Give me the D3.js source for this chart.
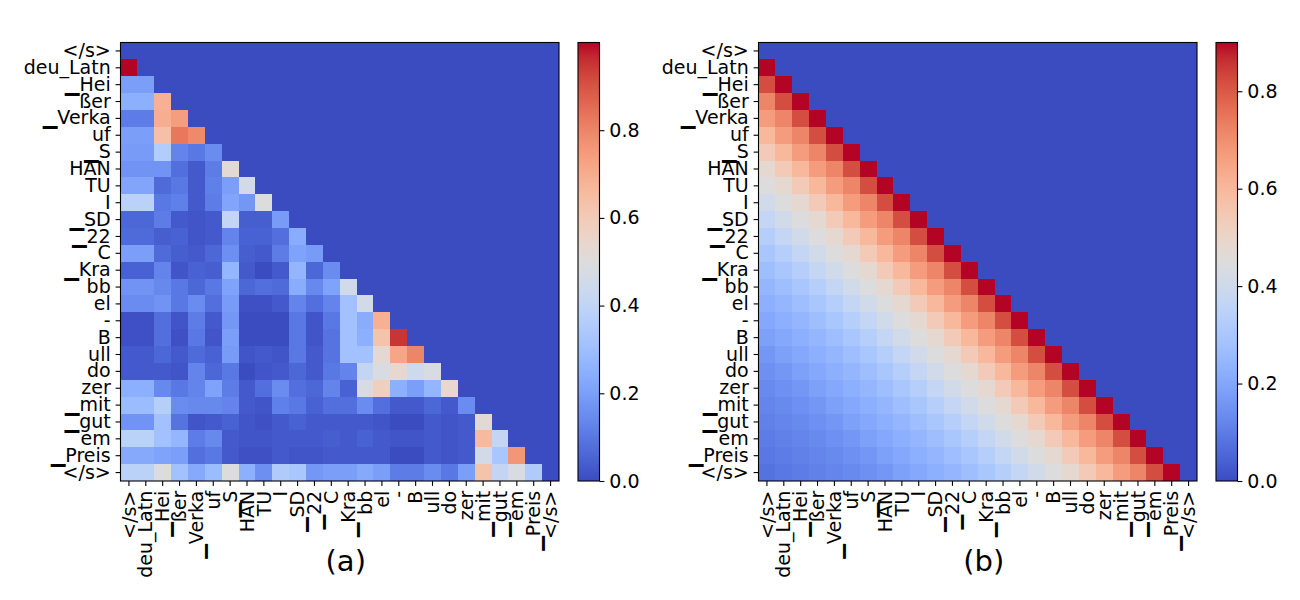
<!DOCTYPE html>
<html>
<head>
<meta charset="utf-8">
<script src="https://cdn.jsdelivr.net/npm/d3@7"></script>
<style>
    body { margin: 0; background: #ffffff; }
    svg text { font-family: "DejaVu Sans", sans-serif; fill: #000000; }
</style>
</head>
<body>
<svg id="figure" width="1300" height="600"></svg>
<script>
// token labels (rows and columns are the same sequence)
const tokens = ['</s>', 'deu_Latn', '\u2581Hei', 'ßer', '\u2581Verka', 'uf', '\u2581S', 'HAN', 'TU', 'I',
    '\u2581SD', '\u258122', 'C', '\u2581Kra', 'bb', 'el', '-', 'B', 'ull', 'do', 'zer',
    '\u2581mit', '\u2581gut', 'em', '\u2581Preis', '</s>'];

// (a) lower triangle, row i holds the values for columns 0..i-1, the rest is 0
const rows_a = [
    [],
    [1.00],
    [0.20, 0.20],
    [0.25, 0.25, 0.69],
    [0.11, 0.11, 0.70, 0.74],
    [0.20, 0.20, 0.64, 0.83, 0.79],
    [0.19, 0.19, 0.36, 0.13, 0.10, 0.15],
    [0.17, 0.17, 0.17, 0.08, 0.03, 0.11, 0.52],
    [0.22, 0.22, 0.07, 0.10, 0.03, 0.12, 0.20, 0.46],
    [0.38, 0.38, 0.10, 0.12, 0.03, 0.11, 0.22, 0.18, 0.50],
    [0.06, 0.06, 0.11, 0.03, 0.02, 0.03, 0.41, 0.04, 0.04, 0.19],
    [0.07, 0.07, 0.04, 0.05, 0.02, 0.03, 0.13, 0.05, 0.05, 0.08, 0.24],
    [0.20, 0.20, 0.07, 0.04, 0.03, 0.06, 0.16, 0.04, 0.03, 0.11, 0.21, 0.19],
    [0.05, 0.05, 0.13, 0.02, 0.05, 0.04, 0.27, 0.03, 0.00, 0.03, 0.27, 0.06, 0.15],
    [0.17, 0.17, 0.14, 0.10, 0.06, 0.10, 0.21, 0.06, 0.08, 0.07, 0.24, 0.14, 0.21, 0.45],
    [0.15, 0.15, 0.17, 0.10, 0.15, 0.08, 0.19, 0.01, 0.01, 0.03, 0.13, 0.08, 0.13, 0.31, 0.46],
    [0.01, 0.01, 0.08, 0.02, 0.11, 0.03, 0.18, 0.00, 0.00, 0.00, 0.10, 0.02, 0.10, 0.31, 0.24, 0.69],
    [0.01, 0.01, 0.08, 0.01, 0.10, 0.02, 0.20, 0.00, 0.00, 0.00, 0.10, 0.02, 0.09, 0.31, 0.25, 0.63, 0.95],
    [0.03, 0.03, 0.06, 0.03, 0.07, 0.05, 0.19, 0.02, 0.03, 0.02, 0.10, 0.03, 0.09, 0.31, 0.31, 0.53, 0.72, 0.80],
    [0.03, 0.03, 0.03, 0.02, 0.13, 0.06, 0.10, 0.00, 0.02, 0.03, 0.06, 0.03, 0.10, 0.13, 0.41, 0.48, 0.54, 0.44, 0.48],
    [0.25, 0.25, 0.14, 0.10, 0.13, 0.21, 0.11, 0.03, 0.08, 0.15, 0.08, 0.06, 0.13, 0.05, 0.48, 0.58, 0.25, 0.20, 0.27, 0.54],
    [0.29, 0.29, 0.37, 0.15, 0.14, 0.14, 0.13, 0.03, 0.02, 0.12, 0.10, 0.05, 0.08, 0.08, 0.15, 0.08, 0.03, 0.03, 0.06, 0.03, 0.15],
    [0.17, 0.17, 0.31, 0.09, 0.02, 0.03, 0.05, 0.02, 0.01, 0.03, 0.05, 0.03, 0.03, 0.03, 0.03, 0.02, 0.00, 0.00, 0.03, 0.02, 0.03, 0.52],
    [0.38, 0.38, 0.31, 0.27, 0.11, 0.14, 0.03, 0.02, 0.02, 0.03, 0.03, 0.03, 0.04, 0.03, 0.05, 0.03, 0.02, 0.02, 0.03, 0.02, 0.03, 0.66, 0.41],
    [0.23, 0.23, 0.21, 0.20, 0.08, 0.10, 0.03, 0.01, 0.01, 0.03, 0.02, 0.02, 0.03, 0.03, 0.03, 0.03, 0.00, 0.00, 0.03, 0.02, 0.03, 0.46, 0.33, 0.76],
    [0.38, 0.38, 0.50, 0.31, 0.23, 0.29, 0.50, 0.25, 0.16, 0.35, 0.33, 0.18, 0.20, 0.20, 0.23, 0.20, 0.11, 0.11, 0.15, 0.10, 0.20, 0.63, 0.41, 0.48, 0.35]
];

// (b) lower triangle, same layout
const rows_b = [
    [],
    [0.90],
    [0.82, 0.90],
    [0.72, 0.82, 0.90],
    [0.67, 0.72, 0.82, 0.90],
    [0.60, 0.67, 0.72, 0.82, 0.90],
    [0.54, 0.60, 0.67, 0.72, 0.82, 0.90],
    [0.48, 0.54, 0.60, 0.67, 0.72, 0.82, 0.90],
    [0.45, 0.48, 0.54, 0.60, 0.67, 0.72, 0.82, 0.90],
    [0.41, 0.45, 0.48, 0.54, 0.60, 0.67, 0.72, 0.82, 0.90],
    [0.37, 0.41, 0.45, 0.48, 0.54, 0.60, 0.67, 0.72, 0.82, 0.90],
    [0.33, 0.37, 0.41, 0.45, 0.48, 0.54, 0.60, 0.67, 0.72, 0.82, 0.90],
    [0.30, 0.33, 0.37, 0.41, 0.45, 0.48, 0.54, 0.60, 0.67, 0.72, 0.82, 0.90],
    [0.27, 0.30, 0.33, 0.37, 0.41, 0.45, 0.48, 0.54, 0.60, 0.67, 0.72, 0.82, 0.90],
    [0.245, 0.27, 0.30, 0.33, 0.37, 0.41, 0.45, 0.48, 0.54, 0.60, 0.67, 0.72, 0.82, 0.90],
    [0.225, 0.245, 0.27, 0.30, 0.33, 0.37, 0.41, 0.45, 0.48, 0.54, 0.60, 0.67, 0.72, 0.82, 0.90],
    [0.205, 0.225, 0.245, 0.27, 0.30, 0.33, 0.37, 0.41, 0.45, 0.48, 0.54, 0.60, 0.67, 0.72, 0.82, 0.90],
    [0.185, 0.205, 0.225, 0.245, 0.27, 0.30, 0.33, 0.37, 0.41, 0.45, 0.48, 0.54, 0.60, 0.67, 0.72, 0.82, 0.90],
    [0.16, 0.185, 0.205, 0.225, 0.245, 0.27, 0.30, 0.33, 0.37, 0.41, 0.45, 0.48, 0.54, 0.60, 0.67, 0.72, 0.82, 0.90],
    [0.145, 0.16, 0.185, 0.205, 0.225, 0.245, 0.27, 0.30, 0.33, 0.37, 0.41, 0.45, 0.48, 0.54, 0.60, 0.67, 0.72, 0.82, 0.90],
    [0.13, 0.145, 0.16, 0.185, 0.205, 0.225, 0.245, 0.27, 0.30, 0.33, 0.37, 0.41, 0.45, 0.48, 0.54, 0.60, 0.67, 0.72, 0.82, 0.90],
    [0.12, 0.13, 0.145, 0.16, 0.185, 0.205, 0.225, 0.245, 0.27, 0.30, 0.33, 0.37, 0.41, 0.45, 0.48, 0.54, 0.60, 0.67, 0.72, 0.82, 0.90],
    [0.11, 0.12, 0.13, 0.145, 0.16, 0.185, 0.205, 0.225, 0.245, 0.27, 0.30, 0.33, 0.37, 0.41, 0.45, 0.48, 0.54, 0.60, 0.67, 0.72, 0.82, 0.90],
    [0.10, 0.11, 0.12, 0.13, 0.145, 0.16, 0.185, 0.205, 0.225, 0.245, 0.27, 0.30, 0.33, 0.37, 0.41, 0.45, 0.48, 0.54, 0.60, 0.67, 0.72, 0.82, 0.90],
    [0.09, 0.10, 0.11, 0.12, 0.13, 0.145, 0.16, 0.185, 0.205, 0.225, 0.245, 0.27, 0.30, 0.33, 0.37, 0.41, 0.45, 0.48, 0.54, 0.60, 0.67, 0.72, 0.82, 0.90],
    [0.08, 0.09, 0.10, 0.11, 0.12, 0.13, 0.145, 0.16, 0.185, 0.205, 0.225, 0.245, 0.27, 0.30, 0.33, 0.37, 0.41, 0.45, 0.48, 0.54, 0.60, 0.67, 0.72, 0.82, 0.90]
];

const colorbar_ticks = [0.0, 0.2, 0.4, 0.6, 0.8];
const panel_labels = ['(a)', '(b)'];

// matplotlib "coolwarm", sampled every 1/32
const coolwarm_stops = ['#3b4cc0', '#445acc', '#4d68d7', '#5775e1', '#6282ea', '#6c8ef1', '#779af7', '#82a5fb',
    '#8db0fe', '#98b9ff', '#a3c2fe', '#adc9fc', '#b8d0f9', '#c2d5f4', '#ccd9ed', '#d5dbe5',
    '#dddcdc', '#e5d8d1', '#ecd3c5', '#f1ccb9', '#f4c4ad', '#f7bba0', '#f7b194', '#f6a687',
    '#f49a7b', '#f08d6f', '#eb7f63', '#e57057', '#dd604c', '#d55042', '#cb3e38', '#c0282f', '#b40426'];

const coolwarm = d3.piecewise(d3.interpolateRgb, coolwarm_stops);

let svg = d3.select('#figure');

const panel_size = 438.5;
const panel_top = 42.5;
const tick_len = 4.9;
const font_size = '19px';

function full_matrix(rows) {
    return rows.map(function (row) {
        return tokens.map((t, j) => j < row.length ? row[j] : 0);
    });
}

function draw_panel(rows, left, cbar_left, label, panel_id) {

    let matrix = full_matrix(rows);
    let vmax = d3.max(matrix, r => d3.max(r));

    let color = d3.scaleSequential(coolwarm).domain([0, vmax]);

    let x = d3.scaleBand().domain(d3.range(tokens.length)).range([left, left + panel_size]);
    let y = d3.scaleBand().domain(d3.range(tokens.length)).range([panel_top, panel_top + panel_size]);

    let cells = [];
    matrix.forEach(function (row, i) {
        row.forEach(function (v, j) {
            cells.push({row: i, col: j, value: v});
        });
    });

    let g = svg.append('g').attr('id', panel_id);

    g.append('g').selectAll('rect')
        .data(cells)
        .join('rect')
        .attr('x', d => x(d.col))
        .attr('y', d => y(d.row))
        .attr('width', x.bandwidth() + 0.4)
        .attr('height', y.bandwidth() + 0.4)
        .attr('fill', d => color(d.value))
        .attr('shape-rendering', 'crispEdges');

    // frame
    g.append('rect')
        .attr('x', left).attr('y', panel_top)
        .attr('width', panel_size).attr('height', panel_size)
        .attr('fill', 'none').attr('stroke', '#000').attr('stroke-width', 1.1);

    let y_axis = g.append('g')
        .attr('transform', 'translate(' + left + ',0)')
        .call(d3.axisLeft(y).tickSize(tick_len).tickPadding(tick_len).tickFormat(i => tokens[i]));
    y_axis.select('.domain').remove();
    y_axis.selectAll('text').style('font-size', font_size);
    y_axis.selectAll('line').attr('stroke-width', 1.1);

    let x_axis = g.append('g')
        .attr('transform', 'translate(0,' + (panel_top + panel_size) + ')')
        .call(d3.axisBottom(x).tickSize(tick_len).tickPadding(tick_len).tickFormat(i => tokens[i]));
    x_axis.select('.domain').remove();
    x_axis.selectAll('line').attr('stroke-width', 1.1);
    x_axis.selectAll('text')
        .style('font-size', font_size)
        .attr('text-anchor', 'end')
        .attr('transform', 'rotate(-90)')
        .attr('x', -2 * tick_len)
        .attr('y', 0)
        .attr('dy', '0.35em');

    // colorbar
    let grad_id = panel_id + '_grad';
    let grad = svg.append('defs').append('linearGradient')
        .attr('id', grad_id)
        .attr('x1', 0).attr('y1', 1).attr('x2', 0).attr('y2', 0);
    grad.selectAll('stop')
        .data(coolwarm_stops)
        .join('stop')
        .attr('offset', (c, i) => i / (coolwarm_stops.length - 1))
        .attr('stop-color', c => c);

    let cbar_width = 21.5;
    g.append('rect')
        .attr('x', cbar_left).attr('y', panel_top)
        .attr('width', cbar_width).attr('height', panel_size)
        .attr('fill', 'url(#' + grad_id + ')')
        .attr('stroke', '#000').attr('stroke-width', 1.1);

    let cbar_scale = d3.scaleLinear().domain([0, vmax]).range([panel_top + panel_size, panel_top]);
    let cbar_axis = g.append('g')
        .attr('transform', 'translate(' + (cbar_left + cbar_width) + ',0)')
        .call(d3.axisRight(cbar_scale).tickValues(colorbar_ticks).tickFormat(d3.format('.1f'))
            .tickSize(tick_len).tickPadding(tick_len));
    cbar_axis.select('.domain').remove();
    cbar_axis.selectAll('line').attr('stroke-width', 1.1);
    cbar_axis.selectAll('text').style('font-size', font_size);

    g.append('text')
        .attr('x', left + panel_size / 2 + 6)
        .attr('y', 571)
        .attr('text-anchor', 'middle')
        .style('font-size', '29px')
        .text(label);
}

draw_panel(rows_a, 120.5, 578, panel_labels[0], 'panel_a');
draw_panel(rows_b, 758.5, 1216, panel_labels[1], 'panel_b');
</script>
</body>
</html>
